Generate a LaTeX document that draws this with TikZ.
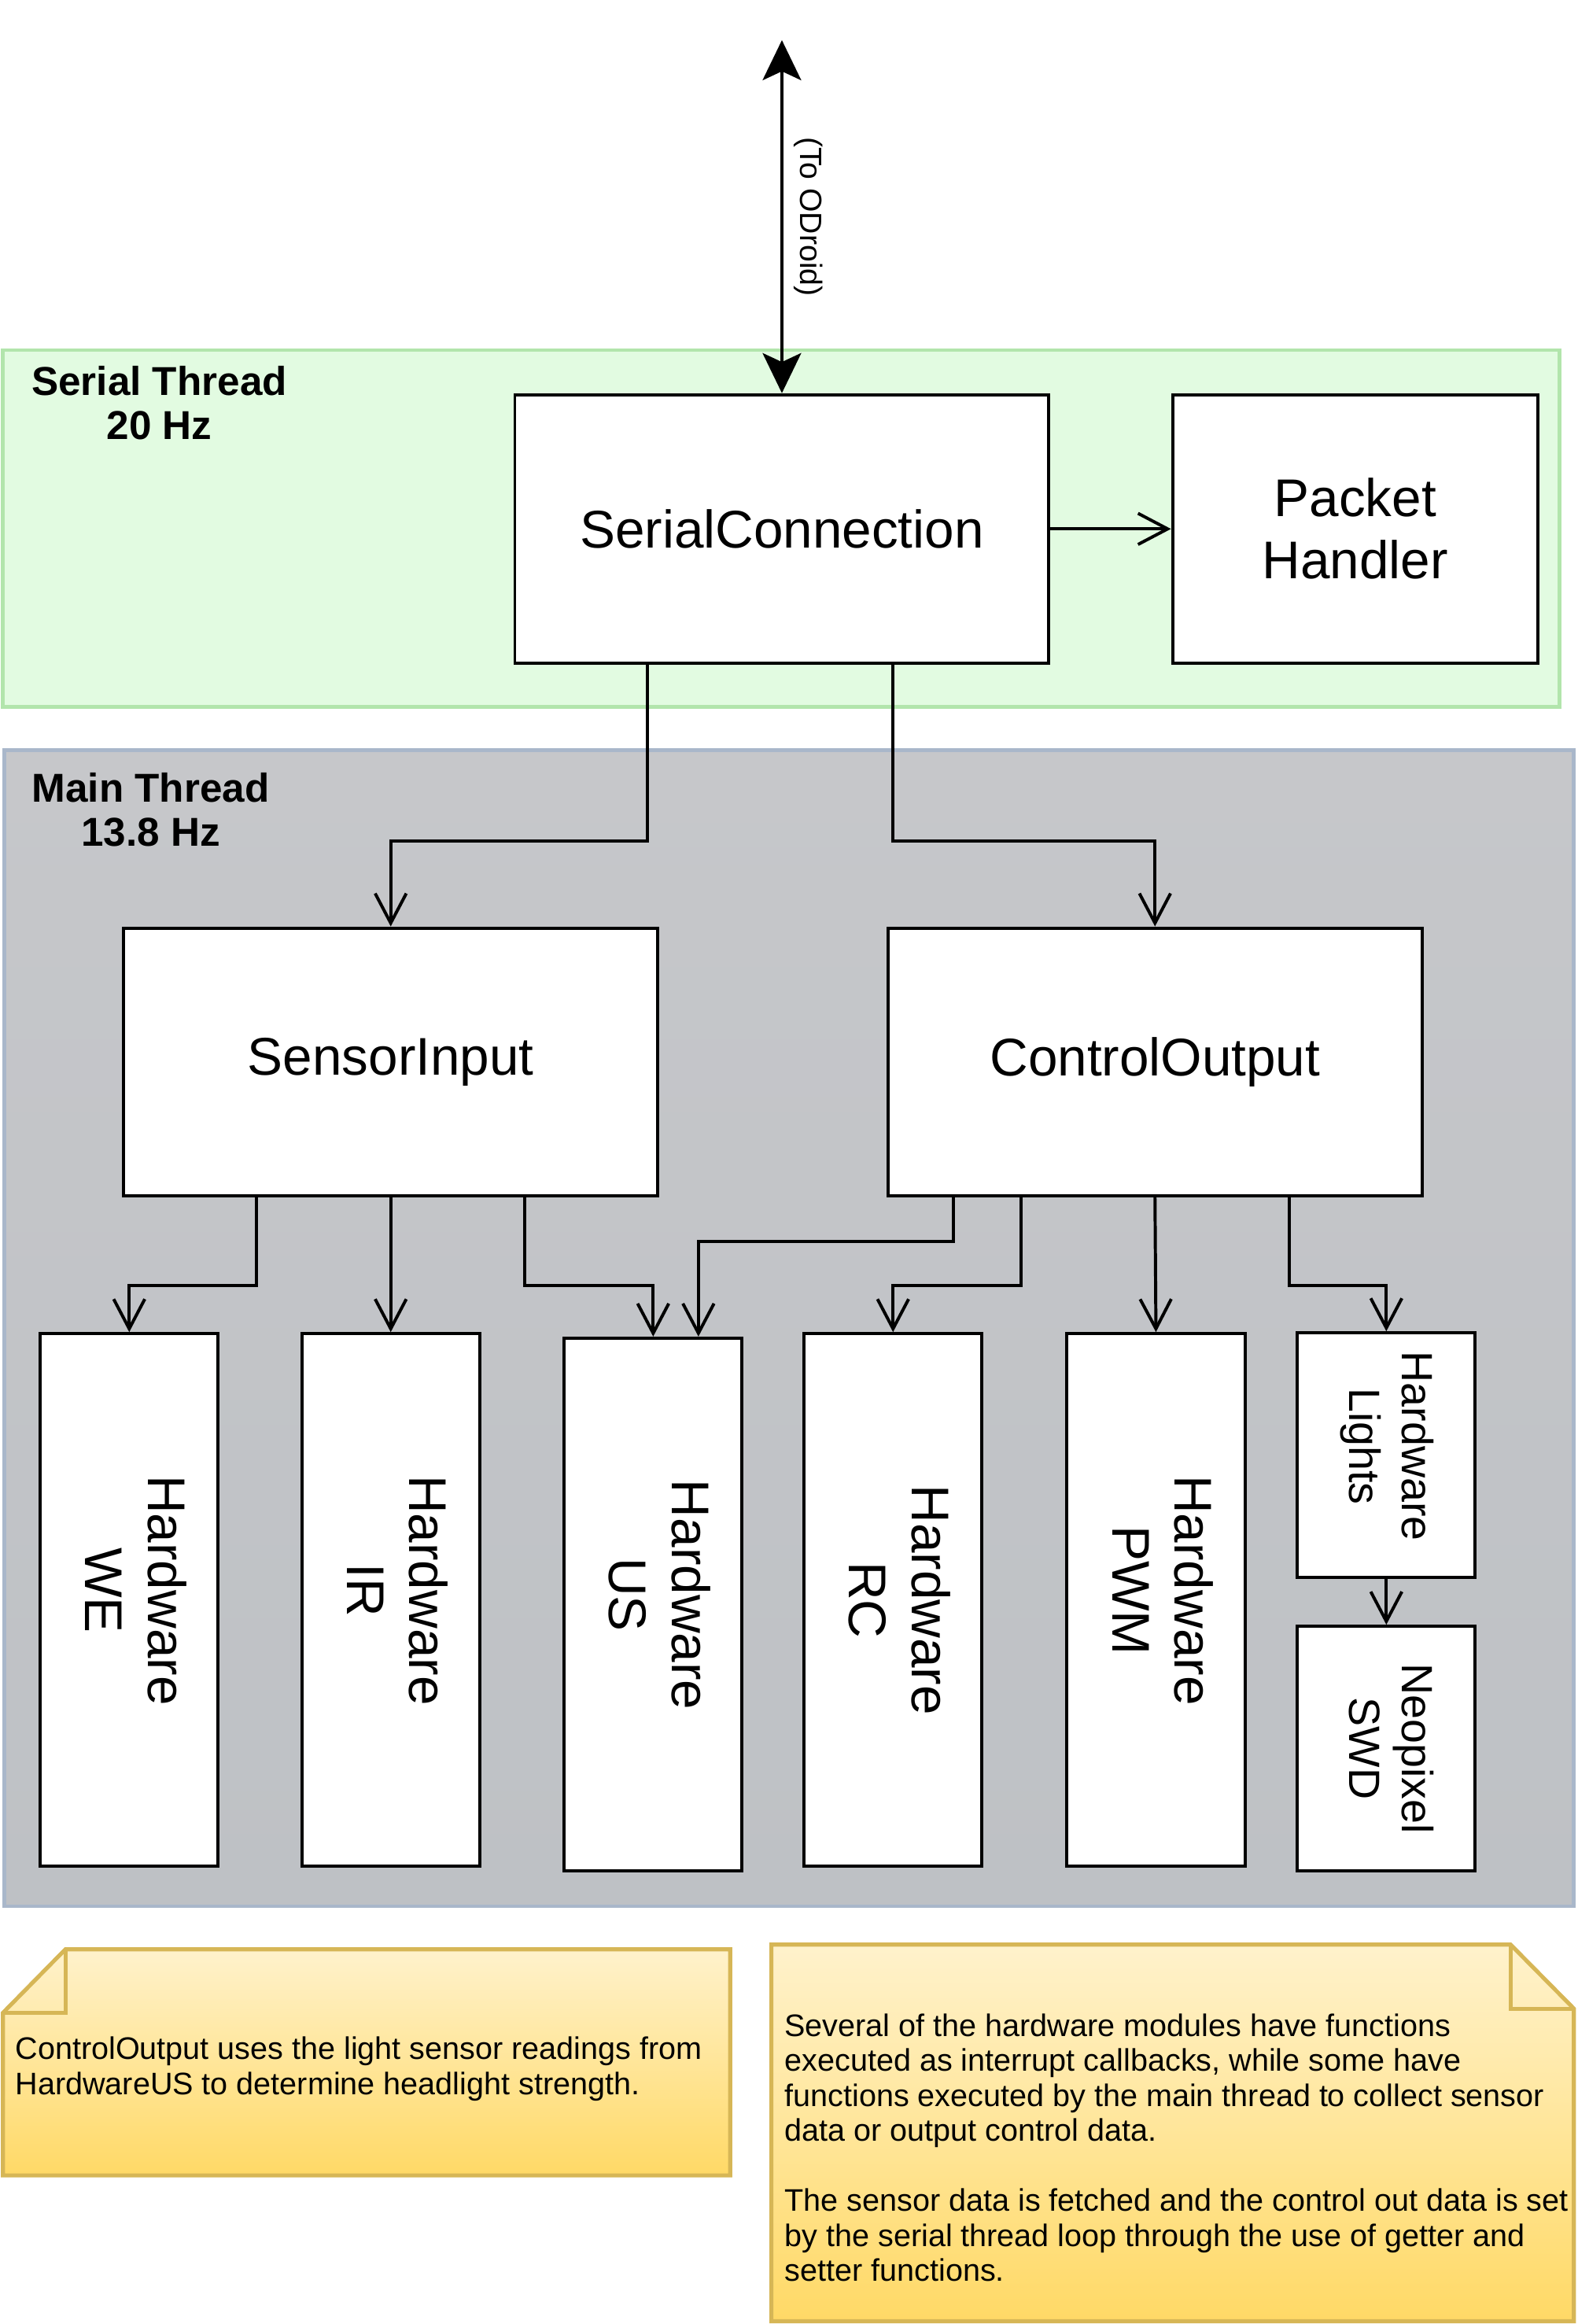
\documentclass[tikz,border=0pt]{standalone}
\usepackage{fontspec,graphicx}
\setmainfont{Liberation Sans}
\usetikzlibrary{arrows.meta,calc}
\definecolor{serialfill}{HTML}{E2FBE1}
\definecolor{serialline}{HTML}{B2E5AC}
\definecolor{maintop}{HTML}{C6C7CA}
\definecolor{mainbottom}{HTML}{BEC1C5}
\definecolor{mainline}{HTML}{A9B7CA}
\definecolor{notetop}{HTML}{FFF2CC}
\definecolor{notebottom}{HTML}{FFD966}
\definecolor{noteline}{HTML}{D6B656}
\newcommand\blockfont{\fontsize{35.8}{42}\selectfont}
\newcommand\minifont{\fontsize{29.5}{35.7}\selectfont}
\newcommand\threadfont{\fontsize{27.2}{29.7}\selectfont\bfseries}
\newcommand\tagfont{\fontsize{20.8}{24}\selectfont}
\newcommand\notefont{\fontsize{21}{23.6}\selectfont}
\newcommand\sidetext[2][0pt]{\rotatebox{-90}{\hspace*{-#1}\begin{tabular}{@{}c@{}}#2\end{tabular}\hspace*{#1}}}
\tikzset{>={Straight Barb[length=20pt,width=21pt]},
  block/.style={draw,line width=2.1pt,fill=white,inner sep=0pt,align=center,font=\blockfont},
  hw/.style={block,minimum width=120pt,minimum height=359.4pt},
  mini/.style={block,minimum width=120pt,minimum height=165pt,font=\minifont},
  thread/.style={line width=2.6pt,inner sep=0pt},
  threadtag/.style={font=\threadfont,align=center,inner sep=0pt},
  link/.style={->,line width=2.1pt},
  note/.style={draw=noteline,line width=2.7pt,top color=notetop,bottom color=notebottom},
  notetext/.style={font=\notefont,align=left,anchor=west,inner sep=0pt}}

\begin{document}
\begin{tikzpicture}[x=1pt,y=-1pt]
\useasboundingbox (0,0) rectangle (1064.3,1568);
\node[thread,draw=serialline,fill=serialfill,minimum width=1050.5pt,minimum height=240.9pt] (serial) at (527.25,356.65) {};
\node[thread,draw=mainline,top color=maintop,bottom color=mainbottom,minimum width=1059.3pt,minimum height=779.8pt] (main) at (532.35,896.2) {};
\node[threadtag] (serialtag) at (107.5,272) {Serial Thread\\20 Hz};
\node[threadtag] (maintag) at (101.7,546.2) {Main Thread\\13.8 Hz};

\node[block,minimum width=360.4pt,minimum height=181.1pt] (sc) at (527.6,356.85) {SerialConnection};
\node[block,minimum width=246.4pt,minimum height=181.1pt] (ph) at (914.4,356.85) {Packet\\Handler};
\node[block,minimum width=360.3pt,minimum height=180.7pt] (si) at (263.65,716.45) {SensorInput};
\node[block,minimum width=360.3pt,minimum height=180.7pt] (co) at (779.35,716.45) {ControlOutput};

\node[hw] (we) at (87.2,1079.5) {\sidetext[6.5pt]{Hardware\\WE}};
\node[hw] (ir) at (263.65,1079.5) {\sidetext[6.5pt]{Hardware\\IR}};
\node[hw] (us) at (440.75,1082.5) {\sidetext[6.5pt]{Hardware\\US}};
\node[hw] (rc) at (602.6,1079.5) {\sidetext{Hardware\\RC}};
\node[hw] (pwm) at (780,1079.5) {\sidetext[6.5pt]{Hardware\\PWM}};
\node[mini] (lights) at (935.45,981.75) {\sidetext[6pt]{Hardware\\Lights}};
\node[mini] (neo) at (935.45,1179.7) {\sidetext{Neopixel\\SWD}};

\coordinate (odroid) at (527.6,27.1);
\draw[{Stealth[length=27pt,width=26pt,inset=6pt]}-{Stealth[length=27pt,width=26pt,inset=6pt]},line width=2.1pt] (odroid) -- node[midway,anchor=south,rotate=-90,font=\tagfont,inner sep=7pt] (tag) {(To ODroid)} (sc.north);
\draw[link] (sc.east) -- (ph.west);
\draw[link] ($(sc.south west)!0.25!(sc.south east)$) -- ++(0,118.8) -| (si.north);
\draw[link] ($(sc.south west)!0.706!(sc.south east)$) -- ++(0,118.8) -| (co.north);
\draw[link] ($(si.south west)!0.25!(si.south east)$) -- ++(0,59.5) -| (we.north);
\draw[link] (si.south) -- (ir.north);
\draw[link] ($(si.south west)!0.75!(si.south east)$) -- ++(0,59.5) -| (us.north);
\draw[link] ($(co.south west)!0.125!(co.south east)$) -- ++(0,29.5) -| ($(us.north west)!0.75!(us.north east)$);
\draw[link] ($(co.south west)!0.25!(co.south east)$) -- ++(0,59.5) -| (rc.north);
\draw[link] (co.south) -- (pwm.north);
\draw[link] ($(co.south west)!0.75!(co.south east)$) -- ++(0,59.5) -| (lights.north);
\draw[link] (lights.south) -- (neo.north);

\draw[note] (2,1358) -- (44.1,1315.2) -- (492.7,1315.2) -- (492.7,1467.7) -- (2,1467.7) -- cycle;
\draw[draw=noteline,line width=2.7pt] (44.1,1315.2) -- (44.1,1358) -- (2,1358);
\node[notetext] (notea) at (10.2,1396) {ControlOutput uses the light sensor readings from\\HardwareUS to determine headlight strength.};
\draw[note] (520.5,1312) -- (1019.3,1312) -- (1062,1355.2) -- (1062,1566.1) -- (520.5,1566.1) -- cycle;
\draw[draw=noteline,line width=2.7pt] (1019.3,1312) -- (1019.3,1355.2) -- (1062,1355.2);
\node[notetext] (noteb) at (529.3,1449) {Several of the hardware modules have functions\\executed as interrupt callbacks, while some have\\functions executed by the main thread to collect sensor\\data or output control data.\\[23.6pt]The sensor data is fetched and the control out data is set\\by the serial thread loop through the use of getter and\\setter functions.};
\end{tikzpicture}
\end{document}
